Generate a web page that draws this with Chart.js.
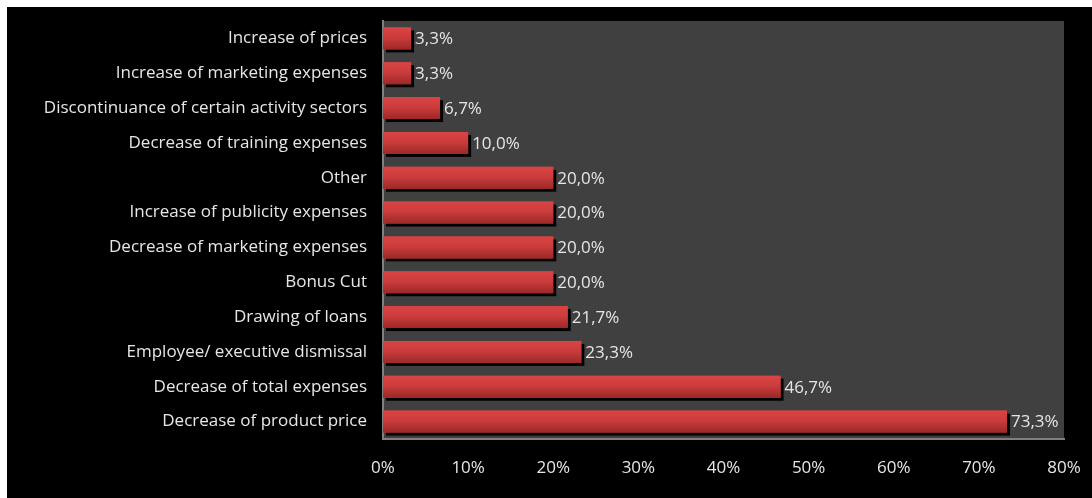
<!DOCTYPE html>
<html>
<head>
<meta charset="utf-8">
<script src="https://cdn.jsdelivr.net/npm/chart.js@4"></script>
<style>
  html, body { margin: 0; padding: 0; background: #fff; }
  #wrap { position: absolute; left: 7px; top: 7px; width: 1085px; height: 491px; background: #000; }
</style>
</head>
<body>
<div id="wrap"><canvas id="myChart"></canvas></div>
<script>
// measures, top to bottom
var measures = [
  'Increase of prices',
  'Increase of marketing expenses',
  'Discontinuance of certain activity sectors',
  'Decrease of training expenses',
  'Other',
  'Increase of publicity expenses',
  'Decrease of marketing expenses',
  'Bonus Cut',
  'Drawing of loans',
  'Employee/ executive dismissal',
  'Decrease of total expenses',
  'Decrease of product price'
];
var shares = [3.3, 3.3, 6.7, 10.0, 20.0, 20.0, 20.0, 20.0, 21.7, 23.3, 46.7, 73.3];
var axisTicks = [0, 10, 20, 30, 40, 50, 60, 70, 80];

var textColor = '#e6e6e6';
var fontFamily = '"Open Sans", "Noto Sans", sans-serif';

function pct(v, digits) {
    return v.toFixed(digits).replace('.', ',') + '%';
}

// grey plot area, black drop shadow, red gradient on the bars, value labels
var barLook = {
    id: 'barLook',
    beforeDraw: function(chart) {
        var a = chart.chartArea, c = chart.ctx;
        c.save();
        c.fillStyle = '#404040';
        c.fillRect(a.left, a.top, a.right - a.left, a.bottom - a.top);
        c.restore();
    },
    beforeDatasetsDraw: function(chart) {
        var c = chart.ctx;
        c.save();
        c.fillStyle = '#000';
        chart.getDatasetMeta(0).data.forEach(function(el) {
            var p = el.getProps(['x', 'y', 'base', 'height'], true);
            c.fillRect(p.base + 3, p.y - p.height / 2 + 3, p.x - p.base, p.height);
        });
        c.restore();
    },
    afterDatasetsDraw: function(chart) {
        var c = chart.ctx;
        c.save();
        chart.getDatasetMeta(0).data.forEach(function(el, i) {
            var p = el.getProps(['x', 'y', 'base', 'height'], true);
            var top = p.y - p.height / 2;
            var g = c.createLinearGradient(0, top, 0, top + p.height);
            g.addColorStop(0, '#d94444');
            g.addColorStop(0.45, '#cc3c3c');
            g.addColorStop(1, '#9c2828');
            c.fillStyle = g;
            c.fillRect(p.base, top, p.x - p.base, p.height);

            c.fillStyle = textColor;
            c.font = '17px ' + fontFamily;
            c.textAlign = 'left';
            c.textBaseline = 'middle';
            c.fillText(pct(shares[i], 1), p.x + 4, p.y + 1);
        });
        c.restore();
    }
};

var chart = new Chart(document.getElementById('myChart'), {
    type: 'bar',
    data: {
        labels: measures,
        datasets: [{
            data: shares,
            backgroundColor: '#cc3c3c',
            borderWidth: 0,
            barPercentage: 0.63,
            categoryPercentage: 1
        }]
    },
    plugins: [barLook],
    options: {
        indexAxis: 'y',
        responsive: true,
        maintainAspectRatio: false,
        animation: false,
        layout: { padding: { top: 14, right: 28, left: 0, bottom: 0 } },
        plugins: {
            legend: { display: false },
            tooltip: { enabled: false }
        },
        scales: {
            x: {
                min: axisTicks[0],
                max: axisTicks[axisTicks.length - 1],
                afterBuildTicks: function(scale) {
                    scale.ticks = axisTicks.map(function(v) { return { value: v }; });
                },
                afterFit: function(scale) {
                    scale.height = 59;
                    scale.paddingLeft = 0;
                    scale.paddingRight = 0;
                },
                grid: { display: false, drawTicks: false },
                border: { display: true, color: '#808080', width: 2 },
                ticks: {
                    color: textColor,
                    padding: 19,
                    font: { size: 17, family: fontFamily },
                    callback: function(v) { return v + '%'; }
                }
            },
            y: {
                afterFit: function(scale) {
                    scale.width = 376;
                    scale.paddingTop = 0;
                    scale.paddingBottom = 0;
                },
                grid: { display: false, drawTicks: false },
                border: { display: true, color: '#808080', width: 2 },
                ticks: {
                    color: textColor,
                    padding: 16,
                    font: { size: 17, family: fontFamily }
                }
            }
        }
    }
});
</script>
</body>
</html>
